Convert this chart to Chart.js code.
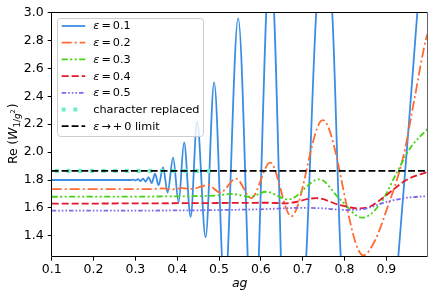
<!DOCTYPE html>
<html><head><meta charset="utf-8">
<script src="https://cdn.jsdelivr.net/npm/chart.js@4.4.1/dist/chart.umd.min.js"></script>
<style>html,body{margin:0;padding:0;background:#fff;overflow:hidden}canvas{display:block}</style>
</head><body>
<canvas id="c" width="436" height="299"></canvas>
<script>
// ---- data ----
const xTicks = [0.1, 0.2, 0.3, 0.4, 0.5, 0.6, 0.7, 0.8, 0.9];
const yTicks = [1.4, 1.6, 1.8, 2.0, 2.2, 2.4, 2.6, 2.8, 3.0];
const seriesNames = ['ε = 0.1', 'ε = 0.2', 'ε = 0.3', 'ε = 0.4', 'ε = 0.5', 'character replaced', 'ε → +0 limit'];

const blueX = [0.1, 0.2873, 0.2945, 0.3005, 0.3065, 0.3124, 0.3184, 0.3244, 0.3316, 0.3388, 0.3471, 0.3555, 0.3663, 0.3770, 0.3902, 0.4033, 0.4165, 0.4321, 0.4476, 0.4679, 0.4883, 0.5134, 0.5457, 0.5816, 0.6222, 0.6701, 0.7084, 0.7323, 0.7514, 0.7706, 0.7909, 0.8663, 0.9285, 0.9524, 0.9739, 1.0];
const blueY = [1.80, 1.80, 1.803, 1.797, 1.806, 1.793, 1.81, 1.788, 1.82, 1.778, 1.845, 1.762, 1.89, 1.71, 1.96, 1.64, 2.07, 1.535, 2.22, 1.39, 2.50, 1.0, 2.96, 0.5, 3.4, -0.5, 1.25, 3.0, 3.5, 3.0, 1.25, -0.8, 1.25, 2.15, 3.0, 4.0];

const orangeX = [0.1, 0.3352, 0.3663, 0.3878, 0.4117, 0.4356, 0.4548, 0.4739, 0.5026, 0.5409, 0.5768, 0.6222, 0.6725, 0.7478, 0.8447, 0.8734, 0.9021, 0.9309, 0.9452, 0.9667, 0.9954, 1.0];
const orangeY = [1.735, 1.735, 1.740, 1.733, 1.742, 1.736, 1.750, 1.765, 1.710, 1.810, 1.670, 1.925, 1.540, 2.230, 1.260, 1.370, 1.600, 1.860, 2.030, 2.375, 2.820, 2.860];

const greenX = [0.1, 0.4069, 0.4978, 0.5289, 0.5744, 0.6126, 0.6653, 0.7395, 0.7897, 0.8423, 0.8854, 0.9261, 0.9596, 1.0];
const greenY = [1.680, 1.683, 1.690, 1.700, 1.680, 1.716, 1.660, 1.805, 1.660, 1.530, 1.630, 1.860, 2.040, 2.170];

const redX = [0.1, 0.4978, 0.6126, 0.6581, 0.7323, 0.7897, 0.8328, 0.8615, 0.8950, 0.9476, 1.0];
const redY = [1.630, 1.635, 1.637, 1.633, 1.670, 1.620, 1.597, 1.610, 1.680, 1.800, 1.860];

const purpleX = [0.1, 0.4069, 0.5983, 0.6940, 0.7419, 0.8017, 0.8423, 0.9021, 0.9500, 1.0];
const purpleY = [1.580, 1.582, 1.590, 1.600, 1.598, 1.585, 1.590, 1.645, 1.673, 1.685];

const cyanX = [0.1, 0.48];
const cyanY = [1.865, 1.865];

const limitX = [0.1, 1.0];
const limitY = [1.865, 1.865];

// ---- build ----
const pts = (xs, ys) => xs.map((x, i) => ({x, y: ys[i]}));
const FONT = '"DejaVu Sans", "Liberation Sans", sans-serif';

const styles = [
  {c: '#3b8de3', d: [], w: 1.8},
  {c: '#ff6b33', d: [10, 3, 2, 3], w: 1.8},
  {c: '#44d414', d: [6, 2.5, 2, 2.5, 2, 2.5], w: 1.8},
  {c: '#e4172b', d: [7, 3], w: 1.8},
  {c: '#7b68ee', d: [4.5, 2, 1.6, 2, 1.6, 2, 1.6, 2], w: 1.8},
  {c: 'rgb(110,238,206)', d: [4, 7.7], w: 4.2, off: 8.7},
  {c: '#000000', d: [6.9, 3], w: 1.8}
];
const allData = [pts(blueX, blueY), pts(orangeX, orangeY), pts(greenX, greenY), pts(redX, redY), pts(purpleX, purpleY), pts(cyanX, cyanY), pts(limitX, limitY)];

const datasets = allData.map((d, i) => ({
  label: seriesNames[i],
  data: d,
  borderColor: styles[i].c,
  backgroundColor: styles[i].c,
  borderWidth: styles[i].w,
  borderDash: styles[i].d,
  borderDashOffset: styles[i].off || 0,
  borderCapStyle: 'butt',
  pointRadius: 0,
  cubicInterpolationMode: 'monotone',
  fill: false,
  order: 6 - i
}));

// legend label segments (math-like rendering)
const legendSegs = [
  [{t:'ε', it:1}, {g:2}, {t:'='}, {g:2}, {t:'0.1'}],
  [{t:'ε', it:1}, {g:2}, {t:'='}, {g:2}, {t:'0.2'}],
  [{t:'ε', it:1}, {g:2}, {t:'='}, {g:2}, {t:'0.3'}],
  [{t:'ε', it:1}, {g:2}, {t:'='}, {g:2}, {t:'0.4'}],
  [{t:'ε', it:1}, {g:2}, {t:'='}, {g:2}, {t:'0.5'}],
  [{t:'character replaced'}],
  [{t:'ε', it:1}, {g:2}, {t:'→'}, {g:2}, {t:'+'}, {g:2}, {t:'0'}, {t:' limit'}]
];

function drawSegs(ctx, x, y, segs, size) {
  for (const s of segs) {
    if (s.g) { x += s.g; continue; }
    ctx.font = (s.it ? 'italic ' : '') + size + 'px ' + FONT;
    ctx.fillText(s.t, x, y);
    x += ctx.measureText(s.t).width;
  }
}

const decor = {
  id: 'decor',
  afterDatasetsDraw(chart) {
    const ctx = chart.ctx, a = chart.chartArea;
    const L = Math.round(a.left) - 0.5, T = Math.round(a.top) - 0.5;
    const R = Math.round(a.right) - 0.5, B = Math.round(a.bottom) - 0.5;
    ctx.save();
    ctx.lineWidth = 1;
    ctx.setLineDash([]);
    ctx.strokeStyle = '#000';
    ctx.beginPath();
    ctx.moveTo(R, T); ctx.lineTo(L, T); ctx.lineTo(L, B); ctx.lineTo(R, B);
    ctx.stroke();
    ctx.strokeStyle = '#666';
    ctx.beginPath(); ctx.moveTo(R, T); ctx.lineTo(R, B); ctx.stroke();

    // legend box
    const bx = 57.5, by = 18.5, bw = 146, bh = 118, r = 3;
    ctx.beginPath();
    ctx.moveTo(bx + r, by);
    ctx.arcTo(bx + bw, by, bx + bw, by + bh, r);
    ctx.arcTo(bx + bw, by + bh, bx, by + bh, r);
    ctx.arcTo(bx, by + bh, bx, by, r);
    ctx.arcTo(bx, by, bx + bw, by, r);
    ctx.closePath();
    ctx.fillStyle = 'rgba(255,255,255,0.8)';
    ctx.fill();
    ctx.strokeStyle = '#cccccc';
    ctx.stroke();

    const rowY0 = 26, rowDy = 16.7;
    chart.data.datasets.forEach((ds, i) => {
      const y = rowY0 + i * rowDy;
      ctx.save();
      ctx.strokeStyle = ds.borderColor;
      ctx.lineWidth = ds.borderWidth;
      ctx.setLineDash(ds.borderDash || []);
      ctx.lineDashOffset = 0;
      ctx.lineCap = 'butt';
      ctx.beginPath();
      ctx.moveTo(61.7, y); ctx.lineTo(85.2, y);
      ctx.stroke();
      ctx.restore();
      ctx.fillStyle = '#000';
      ctx.textBaseline = 'middle';
      ctx.textAlign = 'left';
      drawSegs(ctx, 93.3, y + 0.5, legendSegs[i], 11.25);
    });
    ctx.restore();
  },
  afterDraw(chart) {
    const ctx = chart.ctx;
    ctx.save();
    ctx.fillStyle = '#000';
    ctx.textBaseline = 'alphabetic';
    ctx.textAlign = 'left';
    const big = 12.5, sub = 8.75, sup = 6.5;
    const segs = [
      {t:'Re', s:big, dy:0}, {g:3.5}, {t:'(', s:big, dy:0}, {t:'W', s:big, it:1, dy:0},
      {t:'1/', s:sub, dy:2.6}, {t:'g', s:sub, it:1, dy:2.6}, {t:'2', s:sup, dy:-2.2}, {g:1}, {t:')', s:big, dy:0}
    ];
    let total = 0;
    for (const s of segs) {
      if (s.g) { total += s.g; continue; }
      ctx.font = (s.it ? 'italic ' : '') + s.s + 'px ' + FONT;
      s.w = ctx.measureText(s.t).width; total += s.w;
    }
    ctx.translate(17.3, 133.8);
    ctx.rotate(-Math.PI / 2);
    let x = -total / 2;
    for (const s of segs) {
      if (s.g) { x += s.g; continue; }
      ctx.font = (s.it ? 'italic ' : '') + s.s + 'px ' + FONT;
      ctx.fillText(s.t, x, s.dy);
      x += s.w;
    }
    ctx.restore();
  }
};

Chart.defaults.font.family = FONT;
Chart.defaults.color = '#000';

new Chart(document.getElementById('c'), {
  type: 'line',
  data: {datasets},
  options: {
    responsive: false,
    animation: false,
    devicePixelRatio: 1,
    layout: {padding: {top: 12.7, right: 8.2, left: 0, bottom: 0}},
    plugins: {legend: {display: false}, tooltip: {enabled: false}},
    elements: {line: {capBezierPoints: false}},
    scales: {
      x: {
        type: 'linear', min: 0.1, max: 0.999,
        afterBuildTicks: s => { s.ticks = xTicks.map(v => ({value: v})); },
        afterFit: s => { s.height = 42.3; },
        grid: {display: true, drawOnChartArea: false, drawTicks: true, tickLength: 4, color: '#000', lineWidth: 1},
        border: {display: false},
        ticks: {font: {size: 12.5}, color: '#000', padding: 2, maxRotation: 0, autoSkip: false, callback: v => v.toFixed(1)},
        title: {display: true, text: 'ag', font: {size: 12.5, style: 'italic'}, color: '#000', padding: {top: 0, bottom: 8}}
      },
      y: {
        type: 'linear', min: 1.25, max: 3.0,
        afterBuildTicks: s => { s.ticks = yTicks.map(v => ({value: v})); },
        afterFit: s => { s.width = 51.7; },
        grid: {display: true, drawOnChartArea: false, drawTicks: true, tickLength: 4, color: '#000', lineWidth: 1},
        border: {display: false},
        ticks: {font: {size: 12.5}, color: '#000', padding: 4, callback: v => v.toFixed(1)}
      }
    }
  },
  plugins: [decor]
});
</script>
</body></html>
